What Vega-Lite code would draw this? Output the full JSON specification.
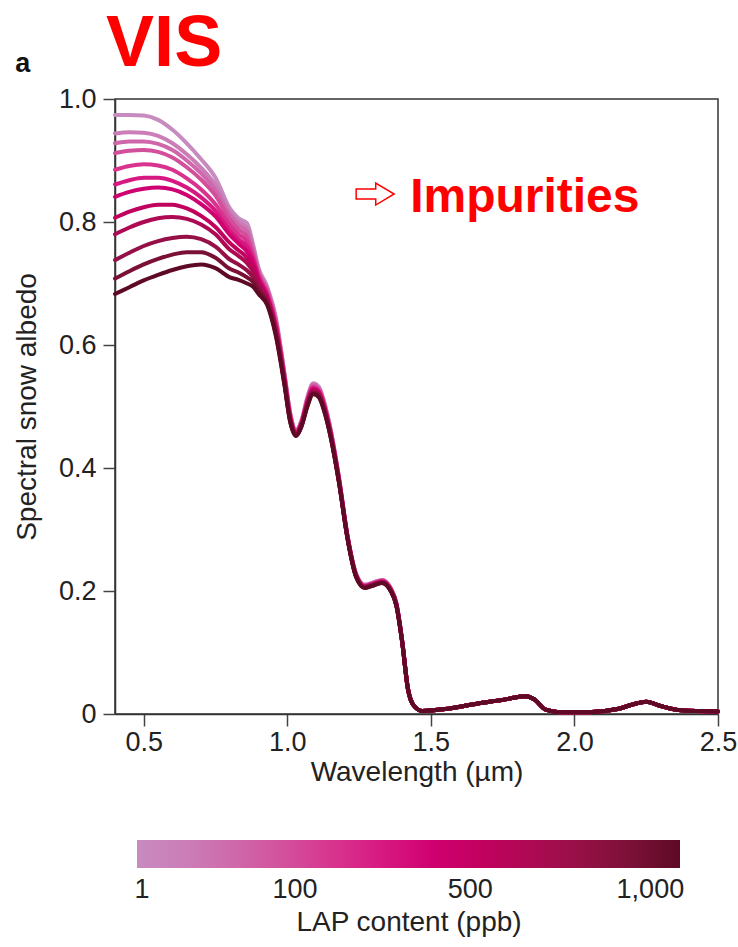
{
"$schema": "https://vega.github.io/schema/vega-lite/v6.json",
"width": 603, "height": 615,
"autosize": {"type": "none"},
"padding": {"left": 115, "top": 99, "right": 20, "bottom": 233},
"background": "white",
"config": {"font": "Liberation Sans", "view": {"stroke": "#333", "strokeWidth": 1.5}},
"data": {"values": [
{"k":0,"w":0.4,"a":0.974},{"k":0,"w":0.45,"a":0.974},{"k":0,"w":0.5,"a":0.973},{"k":0,"w":0.55,"a":0.966},{"k":0,"w":0.6,"a":0.95},{"k":0,"w":0.65,"a":0.928},{"k":0,"w":0.7,"a":0.902},{"k":0,"w":0.75,"a":0.872},{"k":0,"w":0.8,"a":0.822},{"k":0,"w":0.83,"a":0.806},{"k":0,"w":0.86,"a":0.798},{"k":0,"w":0.88,"a":0.765},{"k":0,"w":0.9,"a":0.725},{"k":0,"w":0.93,"a":0.695},{"k":0,"w":0.96,"a":0.645},{"k":0,"w":0.99,"a":0.555},{"k":0,"w":1.01,"a":0.49},{"k":0,"w":1.03,"a":0.462},{"k":0,"w":1.05,"a":0.478},{"k":0,"w":1.07,"a":0.515},{"k":0,"w":1.09,"a":0.538},{"k":0,"w":1.11,"a":0.532},{"k":0,"w":1.13,"a":0.505},{"k":0,"w":1.15,"a":0.465},{"k":0,"w":1.18,"a":0.385},{"k":0,"w":1.21,"a":0.29},{"k":0,"w":1.24,"a":0.228},{"k":0,"w":1.27,"a":0.21},{"k":0,"w":1.3,"a":0.214},{"k":0,"w":1.33,"a":0.218},{"k":0,"w":1.36,"a":0.205},{"k":0,"w":1.38,"a":0.18},{"k":0,"w":1.4,"a":0.12},{"k":0,"w":1.42,"a":0.042},{"k":0,"w":1.44,"a":0.014},{"k":0,"w":1.47,"a":0.005},{"k":0,"w":1.55,"a":0.008},{"k":0,"w":1.65,"a":0.016},{"k":0,"w":1.75,"a":0.023},{"k":0,"w":1.83,"a":0.029},{"k":0,"w":1.86,"a":0.024},{"k":0,"w":1.9,"a":0.007},{"k":0,"w":1.95,"a":0.003},{"k":0,"w":2.05,"a":0.003},{"k":0,"w":2.15,"a":0.008},{"k":0,"w":2.2,"a":0.015},{"k":0,"w":2.25,"a":0.02},{"k":0,"w":2.3,"a":0.013},{"k":0,"w":2.37,"a":0.006},{"k":0,"w":2.5,"a":0.004},
{"k":1,"w":0.4,"a":0.944},{"k":1,"w":0.45,"a":0.946},{"k":1,"w":0.5,"a":0.945},{"k":1,"w":0.55,"a":0.94},{"k":1,"w":0.6,"a":0.928},{"k":1,"w":0.65,"a":0.91},{"k":1,"w":0.7,"a":0.888},{"k":1,"w":0.75,"a":0.86},{"k":1,"w":0.8,"a":0.816},{"k":1,"w":0.83,"a":0.8},{"k":1,"w":0.86,"a":0.79},{"k":1,"w":0.88,"a":0.76},{"k":1,"w":0.9,"a":0.722},{"k":1,"w":0.93,"a":0.692},{"k":1,"w":0.96,"a":0.642},{"k":1,"w":0.99,"a":0.553},{"k":1,"w":1.01,"a":0.489},{"k":1,"w":1.03,"a":0.461},{"k":1,"w":1.05,"a":0.477},{"k":1,"w":1.07,"a":0.514},{"k":1,"w":1.09,"a":0.536},{"k":1,"w":1.11,"a":0.53},{"k":1,"w":1.13,"a":0.504},{"k":1,"w":1.15,"a":0.464},{"k":1,"w":1.18,"a":0.384},{"k":1,"w":1.21,"a":0.289},{"k":1,"w":1.24,"a":0.227},{"k":1,"w":1.27,"a":0.21},{"k":1,"w":1.3,"a":0.214},{"k":1,"w":1.33,"a":0.218},{"k":1,"w":1.36,"a":0.205},{"k":1,"w":1.38,"a":0.18},{"k":1,"w":1.4,"a":0.12},{"k":1,"w":1.42,"a":0.042},{"k":1,"w":1.44,"a":0.014},{"k":1,"w":1.47,"a":0.005},{"k":1,"w":1.55,"a":0.008},{"k":1,"w":1.65,"a":0.016},{"k":1,"w":1.75,"a":0.023},{"k":1,"w":1.83,"a":0.029},{"k":1,"w":1.86,"a":0.024},{"k":1,"w":1.9,"a":0.007},{"k":1,"w":1.95,"a":0.003},{"k":1,"w":2.05,"a":0.003},{"k":1,"w":2.15,"a":0.008},{"k":1,"w":2.2,"a":0.015},{"k":1,"w":2.25,"a":0.02},{"k":1,"w":2.3,"a":0.013},{"k":1,"w":2.37,"a":0.006},{"k":1,"w":2.5,"a":0.004},
{"k":2,"w":0.4,"a":0.928},{"k":2,"w":0.45,"a":0.931},{"k":2,"w":0.5,"a":0.931},{"k":2,"w":0.55,"a":0.927},{"k":2,"w":0.6,"a":0.917},{"k":2,"w":0.65,"a":0.9},{"k":2,"w":0.7,"a":0.879},{"k":2,"w":0.75,"a":0.852},{"k":2,"w":0.8,"a":0.811},{"k":2,"w":0.83,"a":0.795},{"k":2,"w":0.86,"a":0.784},{"k":2,"w":0.88,"a":0.755},{"k":2,"w":0.9,"a":0.719},{"k":2,"w":0.93,"a":0.69},{"k":2,"w":0.96,"a":0.64},{"k":2,"w":0.99,"a":0.551},{"k":2,"w":1.01,"a":0.487},{"k":2,"w":1.03,"a":0.46},{"k":2,"w":1.05,"a":0.476},{"k":2,"w":1.07,"a":0.512},{"k":2,"w":1.09,"a":0.535},{"k":2,"w":1.11,"a":0.529},{"k":2,"w":1.13,"a":0.502},{"k":2,"w":1.15,"a":0.463},{"k":2,"w":1.18,"a":0.383},{"k":2,"w":1.21,"a":0.289},{"k":2,"w":1.24,"a":0.227},{"k":2,"w":1.27,"a":0.209},{"k":2,"w":1.3,"a":0.213},{"k":2,"w":1.33,"a":0.217},{"k":2,"w":1.36,"a":0.204},{"k":2,"w":1.38,"a":0.179},{"k":2,"w":1.4,"a":0.119},{"k":2,"w":1.42,"a":0.042},{"k":2,"w":1.44,"a":0.014},{"k":2,"w":1.47,"a":0.005},{"k":2,"w":1.55,"a":0.008},{"k":2,"w":1.65,"a":0.016},{"k":2,"w":1.75,"a":0.023},{"k":2,"w":1.83,"a":0.029},{"k":2,"w":1.86,"a":0.024},{"k":2,"w":1.9,"a":0.007},{"k":2,"w":1.95,"a":0.003},{"k":2,"w":2.05,"a":0.003},{"k":2,"w":2.15,"a":0.008},{"k":2,"w":2.2,"a":0.015},{"k":2,"w":2.25,"a":0.02},{"k":2,"w":2.3,"a":0.013},{"k":2,"w":2.37,"a":0.006},{"k":2,"w":2.5,"a":0.004},
{"k":3,"w":0.4,"a":0.912},{"k":3,"w":0.45,"a":0.916},{"k":3,"w":0.5,"a":0.917},{"k":3,"w":0.55,"a":0.914},{"k":3,"w":0.6,"a":0.905},{"k":3,"w":0.65,"a":0.889},{"k":3,"w":0.7,"a":0.869},{"k":3,"w":0.75,"a":0.843},{"k":3,"w":0.8,"a":0.804},{"k":3,"w":0.83,"a":0.788},{"k":3,"w":0.86,"a":0.776},{"k":3,"w":0.88,"a":0.75},{"k":3,"w":0.9,"a":0.716},{"k":3,"w":0.93,"a":0.687},{"k":3,"w":0.96,"a":0.637},{"k":3,"w":0.99,"a":0.55},{"k":3,"w":1.01,"a":0.486},{"k":3,"w":1.03,"a":0.459},{"k":3,"w":1.05,"a":0.475},{"k":3,"w":1.07,"a":0.511},{"k":3,"w":1.09,"a":0.533},{"k":3,"w":1.11,"a":0.527},{"k":3,"w":1.13,"a":0.501},{"k":3,"w":1.15,"a":0.461},{"k":3,"w":1.18,"a":0.383},{"k":3,"w":1.21,"a":0.288},{"k":3,"w":1.24,"a":0.226},{"k":3,"w":1.27,"a":0.209},{"k":3,"w":1.3,"a":0.213},{"k":3,"w":1.33,"a":0.217},{"k":3,"w":1.36,"a":0.204},{"k":3,"w":1.38,"a":0.179},{"k":3,"w":1.4,"a":0.119},{"k":3,"w":1.42,"a":0.042},{"k":3,"w":1.44,"a":0.014},{"k":3,"w":1.47,"a":0.005},{"k":3,"w":1.55,"a":0.008},{"k":3,"w":1.65,"a":0.016},{"k":3,"w":1.75,"a":0.023},{"k":3,"w":1.83,"a":0.029},{"k":3,"w":1.86,"a":0.024},{"k":3,"w":1.9,"a":0.007},{"k":3,"w":1.95,"a":0.003},{"k":3,"w":2.05,"a":0.003},{"k":3,"w":2.15,"a":0.008},{"k":3,"w":2.2,"a":0.015},{"k":3,"w":2.25,"a":0.02},{"k":3,"w":2.3,"a":0.013},{"k":3,"w":2.37,"a":0.006},{"k":3,"w":2.5,"a":0.004},
{"k":4,"w":0.4,"a":0.885},{"k":4,"w":0.45,"a":0.891},{"k":4,"w":0.5,"a":0.894},{"k":4,"w":0.55,"a":0.892},{"k":4,"w":0.6,"a":0.885},{"k":4,"w":0.65,"a":0.871},{"k":4,"w":0.7,"a":0.853},{"k":4,"w":0.75,"a":0.829},{"k":4,"w":0.8,"a":0.795},{"k":4,"w":0.83,"a":0.78},{"k":4,"w":0.86,"a":0.768},{"k":4,"w":0.88,"a":0.745},{"k":4,"w":0.9,"a":0.713},{"k":4,"w":0.93,"a":0.684},{"k":4,"w":0.96,"a":0.634},{"k":4,"w":0.99,"a":0.548},{"k":4,"w":1.01,"a":0.485},{"k":4,"w":1.03,"a":0.458},{"k":4,"w":1.05,"a":0.474},{"k":4,"w":1.07,"a":0.51},{"k":4,"w":1.09,"a":0.531},{"k":4,"w":1.11,"a":0.526},{"k":4,"w":1.13,"a":0.5},{"k":4,"w":1.15,"a":0.46},{"k":4,"w":1.18,"a":0.382},{"k":4,"w":1.21,"a":0.288},{"k":4,"w":1.24,"a":0.226},{"k":4,"w":1.27,"a":0.208},{"k":4,"w":1.3,"a":0.212},{"k":4,"w":1.33,"a":0.216},{"k":4,"w":1.36,"a":0.203},{"k":4,"w":1.38,"a":0.179},{"k":4,"w":1.4,"a":0.119},{"k":4,"w":1.42,"a":0.042},{"k":4,"w":1.44,"a":0.014},{"k":4,"w":1.47,"a":0.005},{"k":4,"w":1.55,"a":0.008},{"k":4,"w":1.65,"a":0.016},{"k":4,"w":1.75,"a":0.023},{"k":4,"w":1.83,"a":0.029},{"k":4,"w":1.86,"a":0.024},{"k":4,"w":1.9,"a":0.007},{"k":4,"w":1.95,"a":0.003},{"k":4,"w":2.05,"a":0.003},{"k":4,"w":2.15,"a":0.008},{"k":4,"w":2.2,"a":0.015},{"k":4,"w":2.25,"a":0.02},{"k":4,"w":2.3,"a":0.013},{"k":4,"w":2.37,"a":0.006},{"k":4,"w":2.5,"a":0.004},
{"k":5,"w":0.4,"a":0.861},{"k":5,"w":0.45,"a":0.868},{"k":5,"w":0.5,"a":0.872},{"k":5,"w":0.55,"a":0.872},{"k":5,"w":0.6,"a":0.867},{"k":5,"w":0.65,"a":0.856},{"k":5,"w":0.7,"a":0.84},{"k":5,"w":0.75,"a":0.818},{"k":5,"w":0.8,"a":0.786},{"k":5,"w":0.83,"a":0.772},{"k":5,"w":0.86,"a":0.76},{"k":5,"w":0.88,"a":0.74},{"k":5,"w":0.9,"a":0.71},{"k":5,"w":0.93,"a":0.681},{"k":5,"w":0.96,"a":0.631},{"k":5,"w":0.99,"a":0.546},{"k":5,"w":1.01,"a":0.483},{"k":5,"w":1.03,"a":0.457},{"k":5,"w":1.05,"a":0.473},{"k":5,"w":1.07,"a":0.508},{"k":5,"w":1.09,"a":0.53},{"k":5,"w":1.11,"a":0.524},{"k":5,"w":1.13,"a":0.498},{"k":5,"w":1.15,"a":0.459},{"k":5,"w":1.18,"a":0.381},{"k":5,"w":1.21,"a":0.287},{"k":5,"w":1.24,"a":0.225},{"k":5,"w":1.27,"a":0.208},{"k":5,"w":1.3,"a":0.212},{"k":5,"w":1.33,"a":0.216},{"k":5,"w":1.36,"a":0.203},{"k":5,"w":1.38,"a":0.178},{"k":5,"w":1.4,"a":0.119},{"k":5,"w":1.42,"a":0.042},{"k":5,"w":1.44,"a":0.014},{"k":5,"w":1.47,"a":0.005},{"k":5,"w":1.55,"a":0.008},{"k":5,"w":1.65,"a":0.016},{"k":5,"w":1.75,"a":0.023},{"k":5,"w":1.83,"a":0.029},{"k":5,"w":1.86,"a":0.024},{"k":5,"w":1.9,"a":0.007},{"k":5,"w":1.95,"a":0.003},{"k":5,"w":2.05,"a":0.003},{"k":5,"w":2.15,"a":0.008},{"k":5,"w":2.2,"a":0.015},{"k":5,"w":2.25,"a":0.02},{"k":5,"w":2.3,"a":0.013},{"k":5,"w":2.37,"a":0.006},{"k":5,"w":2.5,"a":0.004},
{"k":6,"w":0.4,"a":0.841},{"k":6,"w":0.45,"a":0.849},{"k":6,"w":0.5,"a":0.854},{"k":6,"w":0.55,"a":0.856},{"k":6,"w":0.6,"a":0.853},{"k":6,"w":0.65,"a":0.844},{"k":6,"w":0.7,"a":0.829},{"k":6,"w":0.75,"a":0.809},{"k":6,"w":0.8,"a":0.779},{"k":6,"w":0.83,"a":0.765},{"k":6,"w":0.86,"a":0.752},{"k":6,"w":0.88,"a":0.735},{"k":6,"w":0.9,"a":0.707},{"k":6,"w":0.93,"a":0.679},{"k":6,"w":0.96,"a":0.629},{"k":6,"w":0.99,"a":0.544},{"k":6,"w":1.01,"a":0.482},{"k":6,"w":1.03,"a":0.457},{"k":6,"w":1.05,"a":0.473},{"k":6,"w":1.07,"a":0.507},{"k":6,"w":1.09,"a":0.528},{"k":6,"w":1.11,"a":0.523},{"k":6,"w":1.13,"a":0.497},{"k":6,"w":1.15,"a":0.458},{"k":6,"w":1.18,"a":0.38},{"k":6,"w":1.21,"a":0.287},{"k":6,"w":1.24,"a":0.225},{"k":6,"w":1.27,"a":0.207},{"k":6,"w":1.3,"a":0.211},{"k":6,"w":1.33,"a":0.215},{"k":6,"w":1.36,"a":0.202},{"k":6,"w":1.38,"a":0.178},{"k":6,"w":1.4,"a":0.118},{"k":6,"w":1.42,"a":0.041},{"k":6,"w":1.44,"a":0.014},{"k":6,"w":1.47,"a":0.005},{"k":6,"w":1.55,"a":0.008},{"k":6,"w":1.65,"a":0.016},{"k":6,"w":1.75,"a":0.023},{"k":6,"w":1.83,"a":0.029},{"k":6,"w":1.86,"a":0.024},{"k":6,"w":1.9,"a":0.007},{"k":6,"w":1.95,"a":0.003},{"k":6,"w":2.05,"a":0.003},{"k":6,"w":2.15,"a":0.008},{"k":6,"w":2.2,"a":0.015},{"k":6,"w":2.25,"a":0.02},{"k":6,"w":2.3,"a":0.013},{"k":6,"w":2.37,"a":0.006},{"k":6,"w":2.5,"a":0.004},
{"k":7,"w":0.4,"a":0.807},{"k":7,"w":0.45,"a":0.817},{"k":7,"w":0.5,"a":0.824},{"k":7,"w":0.55,"a":0.828},{"k":7,"w":0.6,"a":0.828},{"k":7,"w":0.65,"a":0.822},{"k":7,"w":0.7,"a":0.81},{"k":7,"w":0.75,"a":0.792},{"k":7,"w":0.8,"a":0.766},{"k":7,"w":0.83,"a":0.754},{"k":7,"w":0.86,"a":0.742},{"k":7,"w":0.88,"a":0.727},{"k":7,"w":0.9,"a":0.703},{"k":7,"w":0.93,"a":0.676},{"k":7,"w":0.96,"a":0.626},{"k":7,"w":0.99,"a":0.542},{"k":7,"w":1.01,"a":0.48},{"k":7,"w":1.03,"a":0.456},{"k":7,"w":1.05,"a":0.472},{"k":7,"w":1.07,"a":0.505},{"k":7,"w":1.09,"a":0.527},{"k":7,"w":1.11,"a":0.521},{"k":7,"w":1.13,"a":0.495},{"k":7,"w":1.15,"a":0.457},{"k":7,"w":1.18,"a":0.379},{"k":7,"w":1.21,"a":0.286},{"k":7,"w":1.24,"a":0.224},{"k":7,"w":1.27,"a":0.207},{"k":7,"w":1.3,"a":0.211},{"k":7,"w":1.33,"a":0.215},{"k":7,"w":1.36,"a":0.202},{"k":7,"w":1.38,"a":0.177},{"k":7,"w":1.4,"a":0.118},{"k":7,"w":1.42,"a":0.041},{"k":7,"w":1.44,"a":0.014},{"k":7,"w":1.47,"a":0.005},{"k":7,"w":1.55,"a":0.008},{"k":7,"w":1.65,"a":0.016},{"k":7,"w":1.75,"a":0.023},{"k":7,"w":1.83,"a":0.029},{"k":7,"w":1.86,"a":0.024},{"k":7,"w":1.9,"a":0.007},{"k":7,"w":1.95,"a":0.003},{"k":7,"w":2.05,"a":0.003},{"k":7,"w":2.15,"a":0.008},{"k":7,"w":2.2,"a":0.015},{"k":7,"w":2.25,"a":0.02},{"k":7,"w":2.3,"a":0.013},{"k":7,"w":2.37,"a":0.006},{"k":7,"w":2.5,"a":0.004},
{"k":8,"w":0.4,"a":0.78},{"k":8,"w":0.45,"a":0.791},{"k":8,"w":0.5,"a":0.8},{"k":8,"w":0.55,"a":0.806},{"k":8,"w":0.6,"a":0.808},{"k":8,"w":0.65,"a":0.805},{"k":8,"w":0.7,"a":0.796},{"k":8,"w":0.75,"a":0.78},{"k":8,"w":0.8,"a":0.755},{"k":8,"w":0.83,"a":0.745},{"k":8,"w":0.86,"a":0.733},{"k":8,"w":0.88,"a":0.72},{"k":8,"w":0.9,"a":0.699},{"k":8,"w":0.93,"a":0.673},{"k":8,"w":0.96,"a":0.623},{"k":8,"w":0.99,"a":0.54},{"k":8,"w":1.01,"a":0.479},{"k":8,"w":1.03,"a":0.455},{"k":8,"w":1.05,"a":0.471},{"k":8,"w":1.07,"a":0.504},{"k":8,"w":1.09,"a":0.525},{"k":8,"w":1.11,"a":0.52},{"k":8,"w":1.13,"a":0.494},{"k":8,"w":1.15,"a":0.456},{"k":8,"w":1.18,"a":0.378},{"k":8,"w":1.21,"a":0.286},{"k":8,"w":1.24,"a":0.224},{"k":8,"w":1.27,"a":0.206},{"k":8,"w":1.3,"a":0.21},{"k":8,"w":1.33,"a":0.214},{"k":8,"w":1.36,"a":0.201},{"k":8,"w":1.38,"a":0.177},{"k":8,"w":1.4,"a":0.118},{"k":8,"w":1.42,"a":0.041},{"k":8,"w":1.44,"a":0.014},{"k":8,"w":1.47,"a":0.005},{"k":8,"w":1.55,"a":0.008},{"k":8,"w":1.65,"a":0.016},{"k":8,"w":1.75,"a":0.023},{"k":8,"w":1.83,"a":0.029},{"k":8,"w":1.86,"a":0.024},{"k":8,"w":1.9,"a":0.007},{"k":8,"w":1.95,"a":0.003},{"k":8,"w":2.05,"a":0.003},{"k":8,"w":2.15,"a":0.008},{"k":8,"w":2.2,"a":0.015},{"k":8,"w":2.25,"a":0.02},{"k":8,"w":2.3,"a":0.013},{"k":8,"w":2.37,"a":0.006},{"k":8,"w":2.5,"a":0.004},
{"k":9,"w":0.4,"a":0.738},{"k":9,"w":0.45,"a":0.75},{"k":9,"w":0.5,"a":0.761},{"k":9,"w":0.55,"a":0.769},{"k":9,"w":0.6,"a":0.774},{"k":9,"w":0.65,"a":0.776},{"k":9,"w":0.7,"a":0.772},{"k":9,"w":0.75,"a":0.76},{"k":9,"w":0.8,"a":0.739},{"k":9,"w":0.83,"a":0.731},{"k":9,"w":0.86,"a":0.721},{"k":9,"w":0.88,"a":0.711},{"k":9,"w":0.9,"a":0.694},{"k":9,"w":0.93,"a":0.67},{"k":9,"w":0.96,"a":0.62},{"k":9,"w":0.99,"a":0.539},{"k":9,"w":1.01,"a":0.478},{"k":9,"w":1.03,"a":0.454},{"k":9,"w":1.05,"a":0.47},{"k":9,"w":1.07,"a":0.503},{"k":9,"w":1.09,"a":0.523},{"k":9,"w":1.11,"a":0.518},{"k":9,"w":1.13,"a":0.493},{"k":9,"w":1.15,"a":0.454},{"k":9,"w":1.18,"a":0.378},{"k":9,"w":1.21,"a":0.285},{"k":9,"w":1.24,"a":0.223},{"k":9,"w":1.27,"a":0.206},{"k":9,"w":1.3,"a":0.21},{"k":9,"w":1.33,"a":0.214},{"k":9,"w":1.36,"a":0.201},{"k":9,"w":1.38,"a":0.176},{"k":9,"w":1.4,"a":0.117},{"k":9,"w":1.42,"a":0.041},{"k":9,"w":1.44,"a":0.014},{"k":9,"w":1.47,"a":0.005},{"k":9,"w":1.55,"a":0.008},{"k":9,"w":1.65,"a":0.016},{"k":9,"w":1.75,"a":0.023},{"k":9,"w":1.83,"a":0.029},{"k":9,"w":1.86,"a":0.024},{"k":9,"w":1.9,"a":0.007},{"k":9,"w":1.95,"a":0.003},{"k":9,"w":2.05,"a":0.003},{"k":9,"w":2.15,"a":0.008},{"k":9,"w":2.2,"a":0.015},{"k":9,"w":2.25,"a":0.02},{"k":9,"w":2.3,"a":0.013},{"k":9,"w":2.37,"a":0.006},{"k":9,"w":2.5,"a":0.004},
{"k":10,"w":0.4,"a":0.708},{"k":10,"w":0.45,"a":0.72},{"k":10,"w":0.5,"a":0.731},{"k":10,"w":0.55,"a":0.74},{"k":10,"w":0.6,"a":0.747},{"k":10,"w":0.65,"a":0.751},{"k":10,"w":0.7,"a":0.751},{"k":10,"w":0.75,"a":0.742},{"k":10,"w":0.8,"a":0.724},{"k":10,"w":0.83,"a":0.718},{"k":10,"w":0.86,"a":0.71},{"k":10,"w":0.88,"a":0.703},{"k":10,"w":0.9,"a":0.689},{"k":10,"w":0.93,"a":0.668},{"k":10,"w":0.96,"a":0.618},{"k":10,"w":0.99,"a":0.537},{"k":10,"w":1.01,"a":0.476},{"k":10,"w":1.03,"a":0.453},{"k":10,"w":1.05,"a":0.469},{"k":10,"w":1.07,"a":0.501},{"k":10,"w":1.09,"a":0.522},{"k":10,"w":1.11,"a":0.517},{"k":10,"w":1.13,"a":0.491},{"k":10,"w":1.15,"a":0.453},{"k":10,"w":1.18,"a":0.377},{"k":10,"w":1.21,"a":0.285},{"k":10,"w":1.24,"a":0.223},{"k":10,"w":1.27,"a":0.205},{"k":10,"w":1.3,"a":0.209},{"k":10,"w":1.33,"a":0.213},{"k":10,"w":1.36,"a":0.2},{"k":10,"w":1.38,"a":0.176},{"k":10,"w":1.4,"a":0.117},{"k":10,"w":1.42,"a":0.041},{"k":10,"w":1.44,"a":0.014},{"k":10,"w":1.47,"a":0.005},{"k":10,"w":1.55,"a":0.008},{"k":10,"w":1.65,"a":0.016},{"k":10,"w":1.75,"a":0.023},{"k":10,"w":1.83,"a":0.029},{"k":10,"w":1.86,"a":0.024},{"k":10,"w":1.9,"a":0.007},{"k":10,"w":1.95,"a":0.003},{"k":10,"w":2.05,"a":0.003},{"k":10,"w":2.15,"a":0.008},{"k":10,"w":2.2,"a":0.015},{"k":10,"w":2.25,"a":0.02},{"k":10,"w":2.3,"a":0.013},{"k":10,"w":2.37,"a":0.006},{"k":10,"w":2.5,"a":0.004},
{"k":11,"w":0.4,"a":0.683},{"k":11,"w":0.45,"a":0.694},{"k":11,"w":0.5,"a":0.705},{"k":11,"w":0.55,"a":0.714},{"k":11,"w":0.6,"a":0.722},{"k":11,"w":0.65,"a":0.728},{"k":11,"w":0.7,"a":0.731},{"k":11,"w":0.75,"a":0.725},{"k":11,"w":0.8,"a":0.71},{"k":11,"w":0.83,"a":0.706},{"k":11,"w":0.86,"a":0.7},{"k":11,"w":0.88,"a":0.695},{"k":11,"w":0.9,"a":0.683},{"k":11,"w":0.93,"a":0.665},{"k":11,"w":0.96,"a":0.615},{"k":11,"w":0.99,"a":0.535},{"k":11,"w":1.01,"a":0.475},{"k":11,"w":1.03,"a":0.452},{"k":11,"w":1.05,"a":0.468},{"k":11,"w":1.07,"a":0.5},{"k":11,"w":1.09,"a":0.52},{"k":11,"w":1.11,"a":0.515},{"k":11,"w":1.13,"a":0.49},{"k":11,"w":1.15,"a":0.452},{"k":11,"w":1.18,"a":0.376},{"k":11,"w":1.21,"a":0.284},{"k":11,"w":1.24,"a":0.222},{"k":11,"w":1.27,"a":0.205},{"k":11,"w":1.3,"a":0.209},{"k":11,"w":1.33,"a":0.213},{"k":11,"w":1.36,"a":0.2},{"k":11,"w":1.38,"a":0.176},{"k":11,"w":1.4,"a":0.117},{"k":11,"w":1.42,"a":0.041},{"k":11,"w":1.44,"a":0.014},{"k":11,"w":1.47,"a":0.005},{"k":11,"w":1.55,"a":0.008},{"k":11,"w":1.65,"a":0.016},{"k":11,"w":1.75,"a":0.023},{"k":11,"w":1.83,"a":0.029},{"k":11,"w":1.86,"a":0.024},{"k":11,"w":1.9,"a":0.007},{"k":11,"w":1.95,"a":0.003},{"k":11,"w":2.05,"a":0.003},{"k":11,"w":2.15,"a":0.008},{"k":11,"w":2.2,"a":0.015},{"k":11,"w":2.25,"a":0.02},{"k":11,"w":2.3,"a":0.013},{"k":11,"w":2.37,"a":0.006},{"k":11,"w":2.5,"a":0.004}
]},
"layer": [
{"mark": {"type": "line", "interpolate": "monotone", "strokeWidth": 4, "strokeCap": "round"},
 "encoding": {
  "x": {"field": "w", "type": "quantitative", "scale": {"domain": [0.4, 2.5], "nice": false, "zero": false},
        "axis": {"title": "Wavelength (µm)", "values": [0.5, 1, 1.5, 2, 2.5], "format": ".1f", "grid": false, "tickSize": 12, "tickWidth": 1.5, "tickColor": "#444", "domainColor": "#333", "domainWidth": 1.5, "labelFontSize": 27, "labelColor": "#222", "labelPadding": 3, "labelFlush": false, "labelOverlap": false, "titleFontSize": 28, "titleFontWeight": "normal", "titleColor": "#222", "titlePadding": 3}},
  "y": {"field": "a", "type": "quantitative", "scale": {"domain": [0, 1], "nice": false},
        "axis": {"title": "Spectral snow albedo", "values": [0, 0.2, 0.4, 0.6, 0.8, 1], "labelExpr": "datum.value == 0 ? '0' : format(datum.value, '.1f')", "grid": false, "tickSize": 12, "tickWidth": 1.5, "tickColor": "#444", "domainColor": "#333", "domainWidth": 1.5, "labelFontSize": 27, "labelColor": "#222", "labelPadding": 7, "labelOverlap": false, "titleFontSize": 28, "titleFontWeight": "normal", "titleColor": "#222", "titlePadding": 17}},
  "color": {"field": "k", "type": "quantitative",
            "scale": {"domain": [0, 11], "range": ["#c88bc0", "#cc77b4", "#d2559f", "#d92e8c", "#d5007a", "#c40060", "#a80c50", "#86123e", "#5e0a25"]},
            "legend": {"title": "LAP content (ppb)", "orient": "none", "legendX": 22, "legendY": 741, "direction": "horizontal", "gradientLength": 543, "gradientThickness": 28, "gradientStrokeWidth": 0, "titleOrient": "bottom", "titleAnchor": "middle", "titleLimit": 700, "titleFontSize": 28, "titleFontWeight": "normal", "titleColor": "#222", "titlePadding": 6, "labelFontSize": 27, "labelColor": "#222", "labelOffset": 9, "labelOverlap": false, "values": [0.1, 3.2, 6.75, 10.4], "labelExpr": "datum.value < 1 ? '1' : datum.value < 5 ? '100' : datum.value < 8 ? '500' : '1,000'"}},
  "detail": {"field": "k"}
 }},
{"data": {"values": [{}]},
 "mark": {"type": "text", "text": "VIS", "fontWeight": "bold", "fontSize": 72, "color": "#ff0000", "align": "left", "baseline": "alphabetic"},
 "encoding": {"x": {"datum": 0.369, "type": "quantitative"}, "y": {"datum": 1.0537, "type": "quantitative"}}},
{"data": {"values": [{}]},
 "mark": {"type": "text", "text": "a", "fontWeight": "bold", "fontSize": 27, "color": "#111", "align": "left", "baseline": "alphabetic"},
 "encoding": {"x": {"datum": 0.053, "type": "quantitative"}, "y": {"datum": 1.0439, "type": "quantitative"}}},
{"data": {"values": [{}]},
 "mark": {"type": "text", "text": "Impurities", "fontWeight": "bold", "fontSize": 48, "color": "#ff0000", "align": "left", "baseline": "alphabetic"},
 "encoding": {"x": {"datum": 1.4278, "type": "quantitative"}, "y": {"datum": 0.8167, "type": "quantitative"}}},
{"data": {"values": [{}]},
 "mark": {"type": "point", "shape": "M-1,-0.26L0.03,-0.26L0.03,-0.58L1,0L0.03,0.58L0.03,0.26L-1,0.26Z", "size": 1444, "filled": false, "stroke": "#ff0000", "strokeWidth": 1.5, "opacity": 1},
 "encoding": {"x": {"datum": 1.306, "type": "quantitative"}, "y": {"datum": 0.8455, "type": "quantitative"}}}
]
}
